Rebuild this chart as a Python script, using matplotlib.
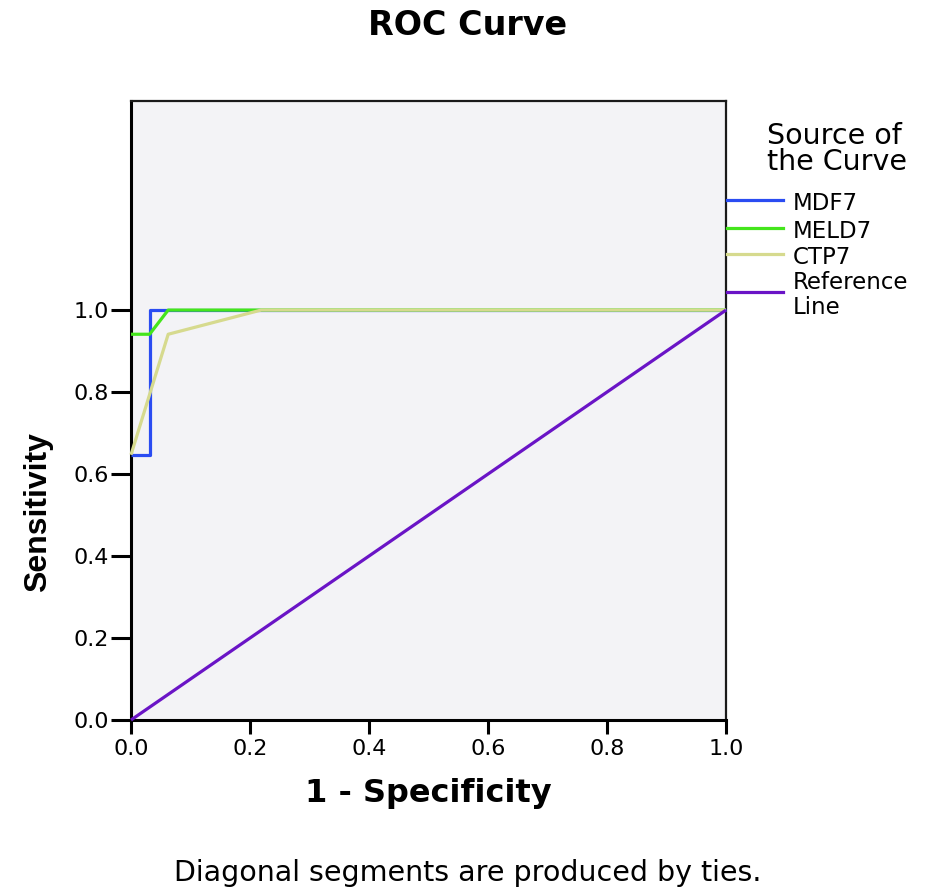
import matplotlib.pyplot as plt
from matplotlib.lines import Line2D

# ROC points (1 - specificity, sensitivity)
mdf7_x = [0.0, 0.03125, 0.03125, 1.0]
mdf7_y = [0.647, 0.647, 1.0, 1.0]
meld7_x = [0.0, 0.03125, 0.0625, 1.0]
meld7_y = [0.941, 0.941, 1.0, 1.0]
ctp7_x = [0.0, 0.0625, 0.21875, 1.0]
ctp7_y = [0.647, 0.941, 1.0, 1.0]
ref_x = [0.0, 1.0]
ref_y = [0.0, 1.0]

labels = ["MDF7", "MELD7", "CTP7", "Reference\nLine"]
colors = ["#2a4cf2", "#44e51c", "#d6da8e", "#6a14c6"]
ticks = [0.0, 0.2, 0.4, 0.6, 0.8, 1.0]

W, H = 953, 894


def fx(px):
    return px / W


def fy(py):
    return 1 - py / H


def main():
    plt.rcParams["font.family"] = ["DejaVu Sans"]
    fig = plt.figure(figsize=(W / 100, H / 100), dpi=100)
    ax = fig.add_axes([fx(131), fy(720), fx(726) - fx(131), fy(101) - fy(720)])
    ax.set_facecolor("#f3f3f6")

    series = [(mdf7_x, mdf7_y), (meld7_x, meld7_y), (ctp7_x, ctp7_y), (ref_x, ref_y)]
    for i, (x, y) in enumerate(series):
        ax.plot(x, y, color=colors[i], lw=2.3, solid_capstyle="butt",
                zorder=3 + i, clip_on=False)

    ax.set_xlim(0, 1)
    ax.set_ylim(0, 1.51)
    ax.set_xticks(ticks)
    ax.set_yticks(ticks)
    ax.set_xticklabels([f"{t:.1f}" for t in ticks], fontsize=16)
    ax.set_yticklabels([f"{t:.1f}" for t in ticks], fontsize=16)
    ax.tick_params(axis="x", length=10, width=2.2, direction="out", pad=3.5)
    ax.tick_params(axis="y", length=14.4, width=2.2, direction="out", pad=1.5)
    for side in ["left", "bottom"]:
        ax.spines[side].set_linewidth(2.2)
    for side in ["top", "right"]:
        ax.spines[side].set_linewidth(1.6)
        ax.spines[side].set_color("#1a1a1a")

    ax.set_xlabel("1 - Specificity", fontsize=23, fontweight="bold", va="baseline")
    ax.xaxis.set_label_coords(0.5, (720 - 802) / 619)
    ax.set_ylabel("Sensitivity", fontsize=23, fontweight="bold",
                  family=["Liberation Sans", "DejaVu Sans"])
    ax.yaxis.set_label_coords((53 - 131) / 595, (720 - 512) / 619)

    fig.text(fx(468), fy(35), "ROC Curve", fontsize=24, fontweight="bold",
             ha="center", va="baseline")
    fig.text(fx(468), fy(881), "Diagonal segments are produced by ties.",
             fontsize=20.5, ha="center", va="baseline")

    # legend, drawn by hand to sit against the right spine
    fig.text(fx(767), fy(144), "Source of", fontsize=20.5, va="baseline")
    fig.text(fx(767), fy(170), "the Curve", fontsize=20.5, va="baseline")
    leg_y = [200, 228, 254, 292]
    for lab, col, py in zip(labels, colors, leg_y):
        fig.add_artist(Line2D([fx(727), fx(783)], [fy(py), fy(py)], color=col,
                              lw=2.3, transform=fig.transFigure))
        lines = lab.split("\n")
        base = py - 3 if len(lines) > 1 else py + 10
        for k, part in enumerate(lines):
            fig.text(fx(793), fy(base + 25 * k), part, fontsize=16.5,
                     va="baseline")

    fig.savefig("out.png", dpi=100)


if __name__ == "__main__":
    main()
